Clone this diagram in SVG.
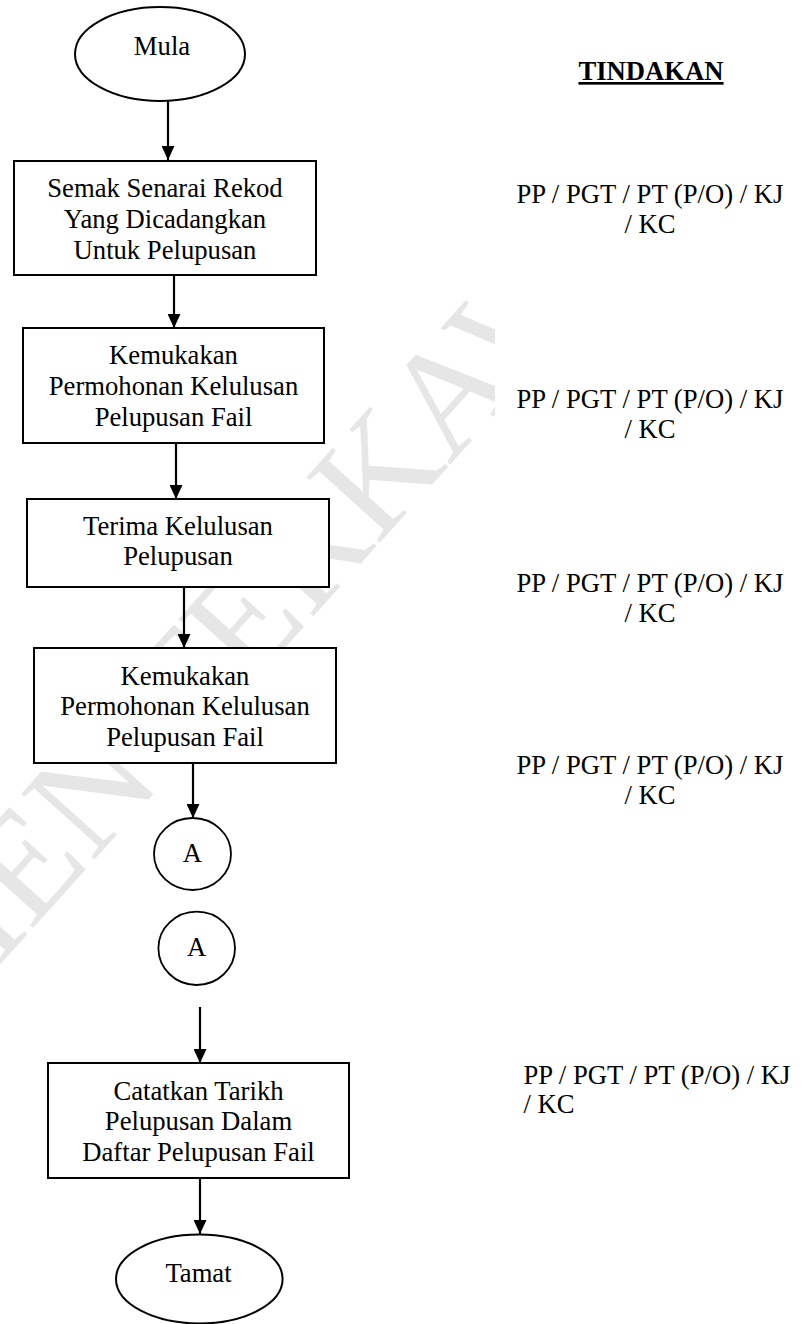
<svg xmlns="http://www.w3.org/2000/svg" width="806" height="1324" viewBox="0 0 806 1324">
<style>
  text { font-family: "Liberation Serif", "Times New Roman", serif; font-size: 26.67px; fill: #000; }
  .c { text-anchor: middle; }
  .node rect, .node ellipse { fill: #fff; stroke: #000; stroke-width: 2; }
  .circ ellipse { fill: #fff; stroke: #000; stroke-width: 1.8; }
  .conn line { stroke: #000; stroke-width: 2.2; fill: none; }
  .wm { font-size: 150px; fill: #e6e6e6; }
  .hdr { font-weight: bold; text-decoration: underline; }
</style>
<defs>
  <marker id="ah" viewBox="0 0 14 13" refX="14" refY="6.5" markerWidth="14" markerHeight="13" markerUnits="userSpaceOnUse" orient="auto">
    <path d="M0,0 L14,6.5 L0,13 z" fill="#000"/>
  </marker>
  <clipPath id="wmclip"><rect x="0" y="0" width="495" height="1324"/></clipPath>
</defs>
<rect x="0" y="0" width="806" height="1324" fill="#fff"/>

<g id="watermark" clip-path="url(#wmclip)">
  <text class="wm" transform="translate(-349,1352) rotate(-48)" x="0" y="0">DOKUMEN TERKAWAL</text>
</g>

<g id="connectors" class="conn">
  <line x1="168" y1="101" x2="168" y2="160" marker-end="url(#ah)"/>
  <line x1="174" y1="275" x2="174" y2="328" marker-end="url(#ah)"/>
  <line x1="176" y1="443" x2="176" y2="499" marker-end="url(#ah)"/>
  <line x1="184" y1="587" x2="184" y2="648" marker-end="url(#ah)"/>
  <line x1="193" y1="763" x2="193" y2="818" marker-end="url(#ah)"/>
  <line x1="200" y1="1007" x2="200" y2="1063" marker-end="url(#ah)"/>
  <line x1="200" y1="1178" x2="200" y2="1234" marker-end="url(#ah)"/>
</g>

<g id="mula" class="node">
  <ellipse cx="160" cy="54" rx="85" ry="47"/>
  <text class="c" x="162" y="55">Mula</text>
</g>

<g id="semak" class="node">
  <rect x="14" y="161" width="302" height="114"/>
  <text class="c" x="165" y="197">Semak Senarai Rekod</text>
  <text class="c" x="165" y="228">Yang Dicadangkan</text>
  <text class="c" x="165" y="258.5">Untuk Pelupusan</text>
</g>

<g id="kemukakan1" class="node">
  <rect x="23" y="328" width="301" height="115"/>
  <text class="c" x="173.5" y="363.5">Kemukakan</text>
  <text class="c" x="173.5" y="395">Permohonan Kelulusan</text>
  <text class="c" x="173.5" y="426">Pelupusan Fail</text>
</g>

<g id="terima" class="node">
  <rect x="27" y="499" width="302" height="88"/>
  <text class="c" x="178" y="534.5">Terima Kelulusan</text>
  <text class="c" x="178" y="565">Pelupusan</text>
</g>

<g id="kemukakan2" class="node">
  <rect x="34" y="648" width="302" height="115"/>
  <text class="c" x="185" y="684.5">Kemukakan</text>
  <text class="c" x="185" y="715">Permohonan Kelulusan</text>
  <text class="c" x="185" y="746">Pelupusan Fail</text>
</g>

<g id="connA1" class="circ">
  <ellipse cx="192.5" cy="854" rx="38.5" ry="36"/>
  <text class="c" x="192.5" y="862">A</text>
</g>

<g id="connA2" class="circ">
  <ellipse cx="196.7" cy="948.3" rx="38.3" ry="36.7"/>
  <text class="c" x="196.7" y="956">A</text>
</g>

<g id="catatkan" class="node">
  <rect x="48" y="1063" width="301" height="115"/>
  <text class="c" x="198.5" y="1099.5">Catatkan Tarikh</text>
  <text class="c" x="198.5" y="1130">Pelupusan Dalam</text>
  <text class="c" x="198.5" y="1160.5">Daftar Pelupusan Fail</text>
</g>

<g id="tamat" class="node">
  <ellipse cx="199.3" cy="1279" rx="83.3" ry="44.5"/>
  <text class="c" x="198.5" y="1282">Tamat</text>
</g>

<g id="tindakan">
  <text class="c hdr" x="651" y="80">TINDAKAN</text>
  <text class="c" x="650" y="203">PP / PGT / PT (P/O) / KJ</text>
  <text class="c" x="650" y="233">/ KC</text>
  <text class="c" x="650" y="407.5">PP / PGT / PT (P/O) / KJ</text>
  <text class="c" x="650" y="437.5">/ KC</text>
  <text class="c" x="650" y="592">PP / PGT / PT (P/O) / KJ</text>
  <text class="c" x="650" y="622">/ KC</text>
  <text class="c" x="650" y="774">PP / PGT / PT (P/O) / KJ</text>
  <text class="c" x="650" y="804">/ KC</text>
  <text x="523.5" y="1083.5">PP / PGT / PT (P/O) / KJ</text>
  <text x="523.5" y="1113">/ KC</text>
</g>
</svg>
